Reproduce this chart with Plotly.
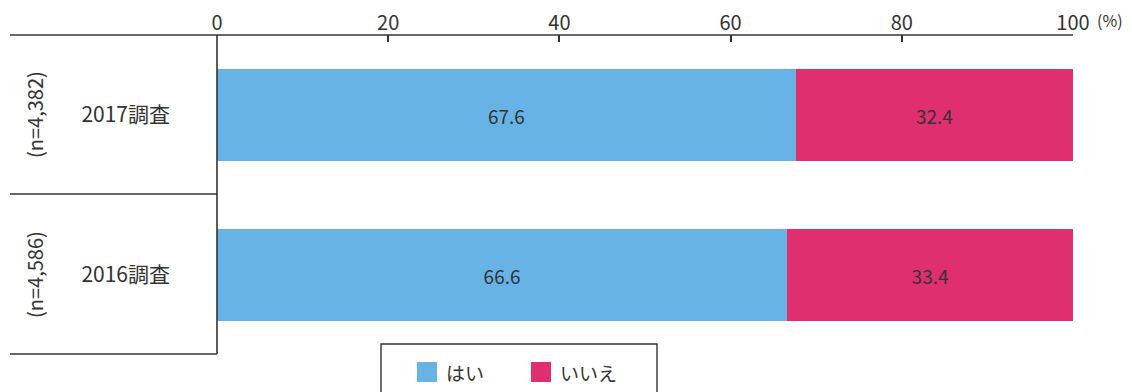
import plotly.graph_objects as go

categories = ["2017調査", "2016調査"]
n_labels = ["(n=4,382)", "(n=4,586)"]
series_names = ["はい", "いいえ"]
yes_values = [67.6, 66.6]
no_values = [32.4, 33.4]
tick_values = [0, 20, 40, 60, 80, 100]
tick_labels = ["0", "20", "40", "60", "80", "100"]

colors = ["#67B3E6", "#DF2F6F"]
font_family = "Noto Sans CJK JP"
ypos = [1, 0]

W, H = 1132, 392
L, R, T, B = 217, 59, 35, 37
pw = W - L - R
ph = H - T - B

def px2x(px):
    return (px - L) / pw

def py2y(py):
    return (H - B - py) / ph

fig = go.Figure()
for name, vals, col in zip(series_names, [yes_values, no_values], colors):
    fig.add_trace(go.Bar(
        name=name, y=ypos, x=vals, orientation="h",
        marker=dict(color=col, line=dict(width=0)),
        width=0.57,
        text=[f"{v:.1f}" for v in vals],
        textposition="inside", insidetextanchor="middle",
        textfont=dict(family=font_family, size=19, color="#333333"),
        hoverinfo="skip", showlegend=False,
    ))

line = dict(color="#333333", width=1.6)
shapes = [
    dict(type="line", xref="paper", yref="paper", x0=px2x(10), x1=1, y0=1, y1=1, line=line),
    dict(type="line", xref="paper", yref="paper", x0=px2x(10), x1=0, y0=py2y(194), y1=py2y(194), line=line),
    dict(type="line", xref="paper", yref="paper", x0=px2x(10), x1=0, y0=py2y(354), y1=py2y(354), line=line),
    dict(type="line", xref="paper", yref="paper", x0=0, x1=0, y0=py2y(354), y1=1, line=line),
    # legend box
    dict(type="rect", xref="paper", yref="paper", x0=px2x(381), x1=px2x(657),
         y0=py2y(420), y1=py2y(344), line=dict(color="#333333", width=1.4), fillcolor="rgba(0,0,0,0)"),
]
annotations = []
# legend items
leg_sq_x = [417, 531]
leg_tx_x = [444, 558]
for name, col, sx, tx in zip(series_names, colors, leg_sq_x, leg_tx_x):
    shapes.append(dict(type="rect", xref="paper", yref="paper", x0=px2x(sx), x1=px2x(sx + 20),
                       y0=py2y(382), y1=py2y(362), line=dict(width=0), fillcolor=col))
    annotations.append(dict(text=name, xref="paper", yref="paper", x=px2x(tx), y=py2y(372),
                            xanchor="left", yanchor="middle", showarrow=False,
                            font=dict(family=font_family, size=19, color="#333333")))
# n labels
for n, yv in zip(n_labels, ypos):
    annotations.append(dict(text=n, xref="paper", yref="y", x=px2x(34), y=yv,
                            xanchor="center", yanchor="middle", textangle=-90, showarrow=False,
                            font=dict(family=font_family, size=20, color="#333333")))
annotations.append(dict(text="(%)", xref="paper", yref="paper", x=1, y=1, xanchor="left",
                        yanchor="bottom", xshift=22, yshift=1, showarrow=False,
                        font=dict(family=font_family, size=16, color="#333333")))

fig.update_layout(
    width=W, height=H, barmode="stack",
    margin=dict(l=L, r=R, t=T, b=B, autoexpand=False),
    paper_bgcolor="white", plot_bgcolor="white",
    shapes=shapes, annotations=annotations,
    font=dict(family=font_family, color="#333333"),
    xaxis=dict(range=[0, 100], side="top", tickvals=tick_values, ticktext=tick_labels,
               ticks="inside", ticklen=7, tickwidth=1.5, tickcolor="#333333",
               showgrid=False, zeroline=False, showline=False, automargin=False,
               tickfont=dict(family=font_family, size=20, color="#333333")),
    yaxis=dict(range=[-0.5, 1.5], tickvals=ypos, ticktext=categories, showgrid=False,
               zeroline=False, showline=False, ticks="", ticklabelstandoff=46, automargin=False,
               tickfont=dict(family=font_family, size=21, color="#333333")),
)
fig.write_html("out.html")
